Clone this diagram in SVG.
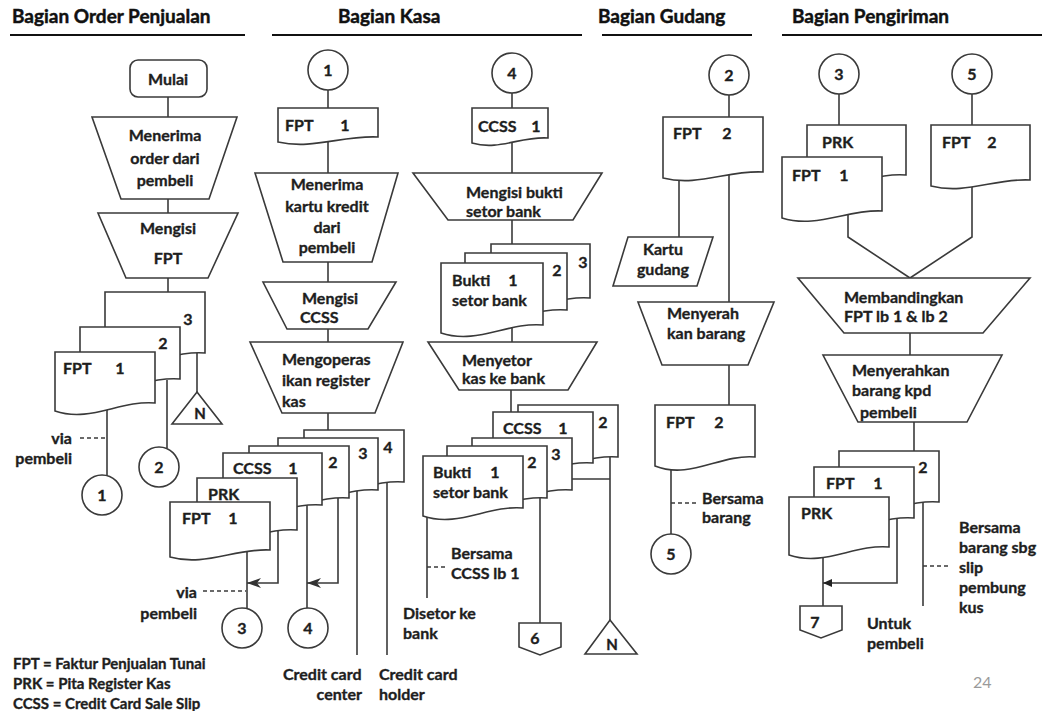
<svg xmlns="http://www.w3.org/2000/svg" width="1046" height="711" viewBox="0 0 1046 711">
<defs>
<style>
.ln{stroke:#3a3a3a;stroke-width:1.6;fill:none}
.ds{stroke:#3a3a3a;stroke-width:1.3;fill:none;stroke-dasharray:4 3}
.sh{stroke:#3a3a3a;stroke-width:1.6;fill:#fff}
.hl{stroke:#111;stroke-width:2.2}
text{font-family:Lato,"Liberation Sans",sans-serif;font-weight:bold;font-size:16px;fill:#1e1e1e;stroke:#1e1e1e;stroke-width:0.35}
.h{font-size:19px;fill:#111;stroke:#111;stroke-width:0.45}
.m{text-anchor:middle}
.e{text-anchor:end}
.lg{font-size:15px}
.pg{font-weight:normal;fill:#9a9a9a;stroke:none;font-size:16px}
</style>
<marker id="arr" viewBox="0 0 14 10" refX="14" refY="5" markerWidth="14" markerHeight="10" markerUnits="userSpaceOnUse" orient="auto"><path d="M0,0 L14,5 L0,10 L4,5 Z" fill="#333"/></marker>
<marker id="arr2" viewBox="0 0 9 8" refX="9" refY="4" markerWidth="9" markerHeight="8" markerUnits="userSpaceOnUse" orient="auto"><path d="M0,0 L9,4 L0,8 Z" fill="#222"/></marker>
</defs>
<rect width="1046" height="711" fill="#fff"/>

<g id="headers">
<text class="h" x="12" y="23">Bagian Order Penjualan</text>
<line class="hl" x1="10" y1="35" x2="245" y2="35"/>
<text class="h" x="338" y="23">Bagian Kasa</text>
<line class="hl" x1="272" y1="35" x2="582" y2="35"/>
<text class="h" x="598" y="23">Bagian Gudang</text>
<line class="hl" x1="602" y1="35" x2="752" y2="35"/>
<text class="h" x="792" y="23">Bagian Pengiriman</text>
<line class="hl" x1="782" y1="35" x2="1042" y2="35"/>
</g>

<g id="connectors">
<path class="ln" d="M168,97V117"/>
<path class="ln" d="M168,199V213"/>
<path class="ln" d="M168,278V292"/>
<path class="ln" d="M107,405V476"/>
<path class="ln" d="M167,380V448"/>
<path class="ln" d="M197,353V392"/>
<path class="ds" d="M80,438H107"/>
<path class="ln" d="M328,90V108"/>
<path class="ln" d="M328,140V173"/>
<path class="ln" d="M328,262V282"/>
<path class="ln" d="M328,329V342"/>
<path class="ln" d="M328,413V430"/>
<path class="ln" d="M247,552V608"/>
<path class="ln" d="M278,530V583H247" marker-end="url(#arr)"/>
<path class="ln" d="M307,505V608"/>
<path class="ln" d="M338,498V583H307" marker-end="url(#arr)"/>
<path class="ln" d="M357,490V655"/>
<path class="ln" d="M387,482V655"/>
<path class="ds" d="M203,591H246"/>
<path class="ln" d="M512,93V108"/>
<path class="ln" d="M512,141V173"/>
<path class="ln" d="M512,220V244"/>
<path class="ln" d="M512,326V342"/>
<path class="ln" d="M511,390V412"/>
<path class="ln" d="M427,514V598"/>
<path class="ds" d="M427,567H447"/>
<path class="ln" d="M540,498V623"/>
<path class="ln" d="M610,457V620"/>
<path class="ln" d="M572,479H610"/>
<path class="ln" d="M729,95V117"/>
<path class="ln" d="M679,177V237"/>
<path class="ln" d="M729,172V302"/>
<path class="ln" d="M729,365V405"/>
<path class="ln" d="M671,465V534"/>
<path class="ds" d="M671,503H697"/>
<path class="ln" d="M839,94V125"/>
<path class="ln" d="M972,94V125"/>
<path class="ln" d="M848,215V237L910,278L972,237V183"/>
<path class="ln" d="M910,333V355"/>
<path class="ln" d="M914,422V451"/>
<path class="ln" d="M823,554V606"/>
<path class="ln" d="M897,518V583H823" marker-end="url(#arr2)"/>
<path class="ln" d="M923,502V606"/>
<path class="ds" d="M923,566H948"/>
</g>

<g id="op-mulai"><rect class="sh" x="130" y="60" width="77" height="37" rx="8"/><text class="m" x="168" y="85">Mulai</text></g>
<g id="op-menerima-order"><path class="sh" d="M92,117H237L209,199H121Z"/><text class="m" x="165" y="141">Menerima</text><text class="m" x="165" y="164">order dari</text><text class="m" x="165" y="186">pembeli</text></g>
<g id="op-mengisi-fpt"><path class="sh" d="M98,213H238L208,278H126Z"/><text class="m" x="168" y="234">Mengisi</text><text class="m" x="168" y="264">FPT</text></g>
<g id="doc-fpt-order">
<path class="sh" d="M105,292H205V353C170,350 140,373 105,361Z"/><text class="m" x="188" y="325">3</text>
<path class="sh" d="M80,327H180V379C145,376 115,399 80,387Z"/><text class="m" x="163" y="349">2</text>
<path class="sh" d="M55,352H155V403C120,400 90,423 55,411Z"/><text x="63" y="374">FPT</text><text class="m" x="120" y="374">1</text>
</g>
<g id="n-order"><path class="sh" d="M197,392L222,424H172Z"/><text class="m" x="200" y="419" style="font-size:15px">N</text></g>
<g id="c1-out"><circle class="sh" cx="102" cy="495" r="20"/><text class="m" x="102" y="501">1</text></g>
<g id="c2-out"><circle class="sh" cx="159" cy="467" r="20"/><text class="m" x="159" y="473">2</text></g>
<g id="lbl-via1"><text class="e" x="72" y="444">via</text><text class="e" x="72" y="464">pembeli</text></g>

<g id="c1-in"><circle class="sh" cx="328" cy="70" r="20"/><text class="m" x="328" y="76">1</text></g>
<g id="doc-fpt-kasa"><path class="sh" d="M278,108H378V137C343,135 313,150 278,142Z"/><text x="285" y="131">FPT</text><text class="m" x="345" y="131">1</text></g>
<g id="op-kartu"><path class="sh" d="M255,173H398L372,262H283Z"/><text class="m" x="327" y="190">Menerima</text><text class="m" x="327" y="212">kartu kredit</text><text class="m" x="327" y="233">dari</text><text class="m" x="327" y="253">pembeli</text></g>
<g id="op-ccss"><path class="sh" d="M263,282H396L368,329H287Z"/><text x="302" y="304">Mengisi</text><text x="300" y="323">CCSS</text></g>
<g id="op-register"><path class="sh" d="M250,342H403L375,413H282Z"/><text x="282" y="365">Mengoperas</text><text x="282" y="386">ikan register</text><text x="282" y="407">kas</text></g>
<g id="doc-register">
<path class="sh" d="M304,430H404V482C369,479 339,502 304,490Z"/><text class="m" x="388" y="453">4</text>
<path class="sh" d="M278,438H378V490C343,487 313,510 278,498Z"/><text class="m" x="363" y="459">3</text>
<path class="sh" d="M249,446H349V498C314,495 284,518 249,506Z"/><text class="m" x="333" y="468">2</text>
<path class="sh" d="M223,453H322V505C287,502 258,525 223,513Z"/><text x="233" y="474">CCSS</text><text class="m" x="293" y="474">1</text>
<path class="sh" d="M197,478H297V530C262,527 232,550 197,538Z"/><text x="208" y="500">PRK</text>
<path class="sh" d="M170,502H270V550C235,548 205,567 170,557Z"/><text x="182" y="524">FPT</text><text class="m" x="233" y="524">1</text>
</g>
<g id="c3-out"><circle class="sh" cx="242" cy="628" r="20"/><text class="m" x="242" y="634">3</text></g>
<g id="c4-out"><circle class="sh" cx="308" cy="628" r="20"/><text class="m" x="308" y="634">4</text></g>
<g id="lbl-via2"><text class="e" x="197" y="598">via</text><text class="e" x="197" y="619">pembeli</text></g>
<g id="lbl-cc-center"><text x="283" y="680">Credit card</text><text class="e" x="362" y="700">center</text></g>
<g id="lbl-cc-holder"><text x="379" y="680">Credit card</text><text x="379" y="700">holder</text></g>

<g id="c4-in"><circle class="sh" cx="512" cy="73" r="20"/><text class="m" x="512" y="79">4</text></g>
<g id="doc-ccss-kasa"><path class="sh" d="M472,108H548V138C521,136 499,151 472,143Z"/><text x="478" y="132">CCSS</text><text class="m" x="536" y="132">1</text></g>
<g id="op-bukti"><path class="sh" d="M413,173H602L573,220H448Z"/><text x="466" y="198">Mengisi bukti</text><text x="466" y="217">setor bank</text></g>
<g id="doc-bukti">
<path class="sh" d="M491,244H590V298C555,295 526,318 491,306Z"/><text class="m" x="583" y="268">3</text>
<path class="sh" d="M465,253H567V310C531,307 501,330 465,318Z"/><text class="m" x="557" y="276">2</text>
<path class="sh" d="M441,263H543V325C507,322 477,345 441,333Z"/><text x="452" y="286">Bukti</text><text class="m" x="513" y="286">1</text><text x="452" y="306">setor bank</text>
</g>
<g id="op-setor"><path class="sh" d="M428,342H597L568,390H459Z"/><text x="462" y="366">Menyetor</text><text x="462" y="384">kas ke bank</text></g>
<g id="doc-setor">
<path class="sh" d="M518,405H618V457C583,454 553,477 518,465Z"/><text class="m" x="603" y="428">2</text>
<path class="sh" d="M493,412H593V463C558,460 528,483 493,471Z"/><text x="503" y="434">CCSS</text><text class="m" x="563" y="434">1</text>
<path class="sh" d="M472,438H572V490C537,487 507,510 472,498Z"/><text class="m" x="556" y="460">3</text>
<path class="sh" d="M447,446H547V498C512,495 482,518 447,506Z"/><text class="m" x="532" y="468">2</text>
<path class="sh" d="M423,456H523V508C488,505 458,528 423,516Z"/><text x="433" y="478">Bukti</text><text class="m" x="495" y="478">1</text><text x="433" y="498">setor bank</text>
</g>
<g id="lbl-bersama-ccss"><text x="451" y="559">Bersama</text><text x="451" y="579">CCSS lb 1</text></g>
<g id="lbl-disetor"><text x="403" y="619">Disetor ke</text><text x="403" y="639">bank</text></g>
<g id="off6"><path class="sh" d="M519,623H561V647L540,655L519,647Z"/><text class="m" x="535" y="644">6</text></g>
<g id="n-kasa"><path class="sh" d="M610,620L637,654H585Z"/><text class="m" x="612" y="650" style="font-size:15px">N</text></g>

<g id="c2-in"><circle class="sh" cx="729" cy="75" r="20"/><text class="m" x="729" y="81">2</text></g>
<g id="doc-fpt2-gudang"><path class="sh" d="M663,117H763V172C728,170 698,187 663,178Z"/><text x="673" y="139">FPT</text><text class="m" x="727" y="139">2</text></g>
<g id="kartu-gudang"><path class="sh" d="M628,237H713L697,286H613Z"/><text class="m" x="663" y="255">Kartu</text><text class="m" x="663" y="275">gudang</text></g>
<g id="op-menyerah"><path class="sh" d="M638,302H774L748,365H662Z"/><text x="667" y="319">Menyerah</text><text x="667" y="339">kan barang</text></g>
<g id="doc-fpt2-out"><path class="sh" d="M655,405H755V457C720,454 690,480 655,466Z"/><text x="666" y="428">FPT</text><text class="m" x="719" y="428">2</text></g>
<g id="lbl-bersama-barang"><text x="702" y="504">Bersama</text><text x="702" y="523">barang</text></g>
<g id="c5-out"><circle class="sh" cx="671" cy="554" r="20"/><text class="m" x="671" y="560">5</text></g>

<g id="c3-in"><circle class="sh" cx="839" cy="74" r="20"/><text class="m" x="839" y="80">3</text></g>
<g id="c5-in"><circle class="sh" cx="972" cy="74" r="20"/><text class="m" x="972" y="80">5</text></g>
<g id="doc-prk-fpt1">
<path class="sh" d="M807,125H906V175C871,172 842,195 807,183Z"/><text x="822" y="148">PRK</text>
<path class="sh" d="M782,157H882V211C847,209 817,229 782,218Z"/><text x="792" y="181">FPT</text><text class="m" x="844" y="181">1</text>
</g>
<g id="doc-fpt2-kirim"><path class="sh" d="M931,125H1030V180C995,178 966,195 931,186Z"/><text x="942" y="148">FPT</text><text class="m" x="992" y="148">2</text></g>
<g id="op-banding"><path class="sh" d="M798,278H1030L983,333H844Z"/><text x="844" y="303">Membandingkan</text><text x="844" y="322">FPT lb 1 &amp; lb 2</text></g>
<g id="op-serahkan"><path class="sh" d="M823,355H1002L967,422H858Z"/><text x="852" y="376">Menyerahkan</text><text x="852" y="396">barang kpd</text><text x="860" y="418">pembeli</text></g>
<g id="doc-kirim">
<path class="sh" d="M839,451H939V502C904,499 874,522 839,510Z"/><text class="m" x="923" y="473">2</text>
<path class="sh" d="M814,467H914V518C879,515 849,538 814,526Z"/><text x="826" y="489">FPT</text><text class="m" x="878" y="489">1</text>
<path class="sh" d="M789,497H889V547C854,544 824,567 789,555Z"/><text x="801" y="519">PRK</text>
</g>
<g id="off7"><path class="sh" d="M800,606H842V630L821,638L800,630Z"/><text class="m" x="815" y="628">7</text></g>
<g id="lbl-slip"><text x="959" y="533">Bersama</text><text x="959" y="553">barang sbg</text><text x="959" y="573">slip</text><text x="959" y="593">pembung</text><text x="959" y="613">kus</text></g>
<g id="lbl-untuk"><text x="867" y="629">Untuk</text><text x="867" y="649">pembeli</text></g>

<g id="legend"><text class="lg" x="13" y="669">FPT = Faktur Penjualan Tunai</text><text class="lg" x="13" y="689">PRK = Pita Register Kas</text><text class="lg" x="13" y="709">CCSS = Credit Card Sale Slip</text></g>
<text class="pg" x="973" y="688">24</text>
</svg>
